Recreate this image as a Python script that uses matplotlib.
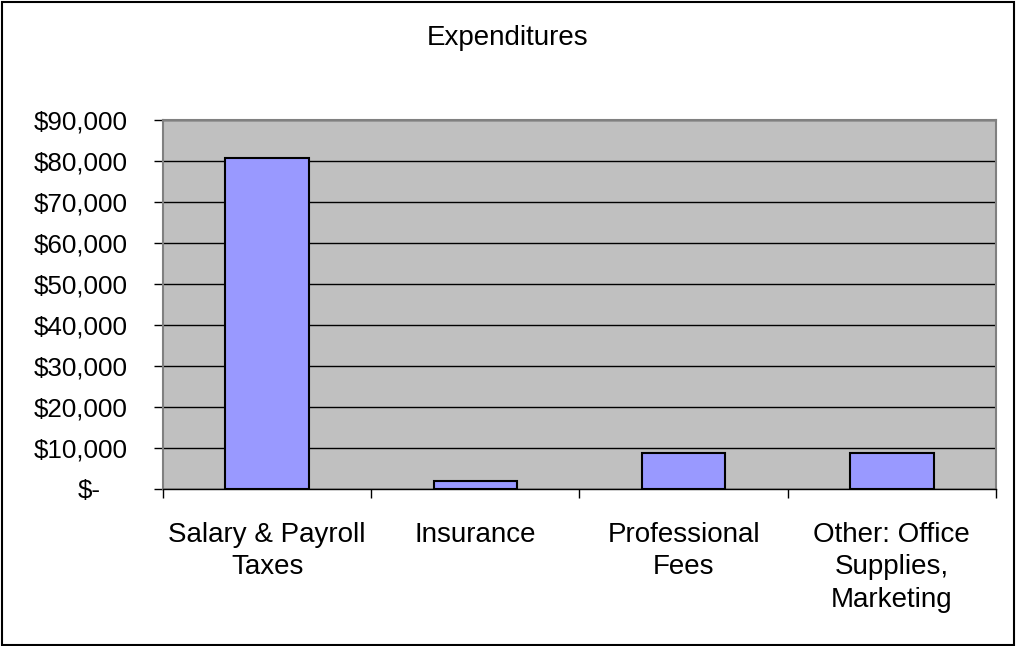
import numpy as np
import matplotlib.pyplot as plt
import matplotlib.transforms as mtransforms
from matplotlib.patches import Rectangle

plt.rcParams['font.family'] = ['Liberation Sans', 'DejaVu Sans']

categories = ["Salary & Payroll\nTaxes", "Insurance", "Professional\nFees",
              "Other: Office\nSupplies,\nMarketing"]
values = [80800, 1800, 8650, 8650]
yticks = [0, 10000, 20000, 30000, 40000, 50000, 60000, 70000, 80000, 90000]
ytick_labels = ["$-", "$10,000", "$20,000", "$30,000", "$40,000", "$50,000",
                "$60,000", "$70,000", "$80,000", "$90,000"]

fig = plt.figure(figsize=(10.16, 6.46), dpi=100)
ax = fig.add_axes([0.1604, 0.2438, 0.8199, 0.5697])
ax.set_facecolor("#C0C0C0")

x = np.arange(len(categories))
ax.bar(x, values, width=0.4, color="#9999FF", edgecolor="black", linewidth=1.5, zorder=3)

ax.set_xlim(-0.5, len(categories) - 0.5)
ax.set_ylim(0, 90000)
ax.set_yticks(yticks)
ax.set_yticklabels(ytick_labels, fontsize=18.7)
ax.yaxis.grid(True, color="black", linewidth=1, zorder=1)
ax.set_axisbelow(True)

# category labels centered, ticks at boundaries
ax.set_xticks(x)
ax.set_xticklabels(categories, fontsize=20, linespacing=1.33, va="top")
ax.tick_params(axis="x", which="major", length=0, pad=24)
ax.set_xticks(np.arange(len(categories) + 1) - 0.5, minor=True)
ax.tick_params(axis="x", which="minor", length=6.5, direction="out", width=1)
ax.tick_params(axis="y", length=6.5, direction="out", width=1, pad=19)

# accounting style: the dash sits left of the digit column
zero_lbl = ax.get_yticklabels()[0]
zero_lbl.set_transform(zero_lbl.get_transform() +
                       mtransforms.ScaledTranslation(-0.27, 0, fig.dpi_scale_trans))

for side in ["top", "right", "left"]:
    ax.spines[side].set_color("#808080")
    ax.spines[side].set_linewidth(1.5)
ax.spines["bottom"].set_color("black")
ax.spines["bottom"].set_linewidth(1)

fig.text(0.5, 0.941, "Expenditures", ha="center", va="center", fontsize=20)

fig.patches.append(Rectangle((0.002, 0.002), 0.996, 0.995, transform=fig.transFigure,
                             fill=False, edgecolor="black", linewidth=1.5))

fig.savefig("out.png", dpi=100)
